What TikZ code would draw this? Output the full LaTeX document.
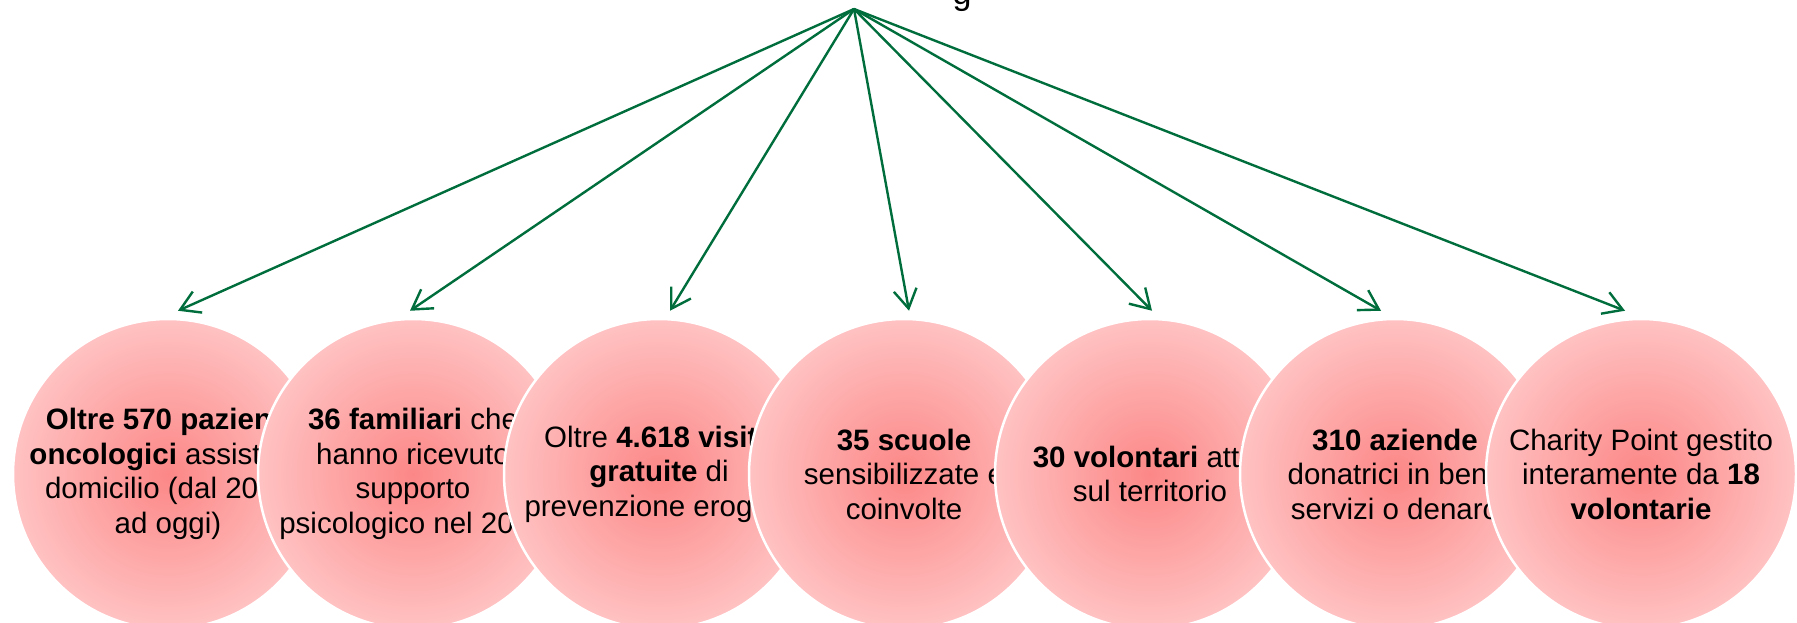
\documentclass[tikz,border=0pt]{standalone}
\usepackage{fontspec}
\setmainfont{Liberation Sans}
\usetikzlibrary{arrows.meta}
\definecolor{arrowgreen}{RGB}{0,110,60}
\definecolor{pinkin}{RGB}{252,135,135}
\definecolor{pinkout}{RGB}{255,194,194}
\pgfdeclareradialshading{glow}{\pgfpoint{0bp}{0bp}}{color(0bp)=(pinkin); color(25bp)=(pinkout); color(50bp)=(pinkout)}
\begin{document}
\begin{tikzpicture}[x=1pt,y=-1pt,
  bubble/.style={circle, minimum size=310pt, inner sep=0pt, shade, shading=glow, draw=white, line width=2.5pt},
  info/.style={align=center, font=\fontsize{29.5}{34.5}\selectfont, text=black, inner sep=0pt},
  link/.style={draw=arrowgreen, line width=2.4pt, -{Straight Barb[length=19pt,width=23pt]}},
  titletext/.style={anchor=base, font=\fontsize{34}{40}\selectfont, text=black, inner sep=0pt}]
\useasboundingbox (0,0) rectangle (1797,623);

\node[titletext] (title) at (962,5) {g};

\node[bubble] (c1) at (168,474) {};
\node[info] (l1) at (c1) {\textbf{Oltre 570 pazienti}\\\textbf{oncologici} assistiti a\\domicilio (dal 2009\\ad oggi)};
\node[bubble] (c2) at (413,474) {};
\node[info] (l2) at (c2) {\textbf{36 familiari} che\\hanno ricevuto\\supporto\\psicologico nel 2023};
\node[bubble] (c3) at (659,474) {};
\node[info] (l3) at (c3) {Oltre \textbf{4.618 visite}\\\textbf{gratuite} di\\prevenzione erogate};
\node[bubble] (c4) at (904,474) {};
\node[info] (l4) at (c4) {\textbf{35 scuole}\\sensibilizzate e\\coinvolte};
\node[bubble] (c5) at (1150,474) {};
\node[info] (l5) at (c5) {\textbf{30 volontari} attivi\\sul territorio};
\node[bubble] (c6) at (1395,474) {};
\node[info] (l6) at (c6) {\textbf{310 aziende}\\donatrici in beni,\\servizi o denaro};
\node[bubble] (c7) at (1641,474) {};
\node[info] (l7) at (c7) {Charity Point gestito\\interamente da \textbf{18}\\\textbf{volontarie}};

\coordinate (src) at (854,9);
\coordinate (t1) at ([shift={(10,-7)}]c1.north);
\coordinate (t2) at ([shift={(-3,-7)}]c2.north);
\coordinate (t3) at ([shift={(11,-7)}]c3.north);
\coordinate (t4) at ([shift={(5,-7)}]c4.north);
\coordinate (t5) at ([shift={(2,-7)}]c5.north);
\coordinate (t6) at ([shift={(-14,-7)}]c6.north);
\coordinate (t7) at ([shift={(-16,-7)}]c7.north);
\foreach \t in {t1,t2,t3,t4,t5,t6,t7}{
  \draw[link] (src) -- (\t);
}
\end{tikzpicture}
\end{document}
